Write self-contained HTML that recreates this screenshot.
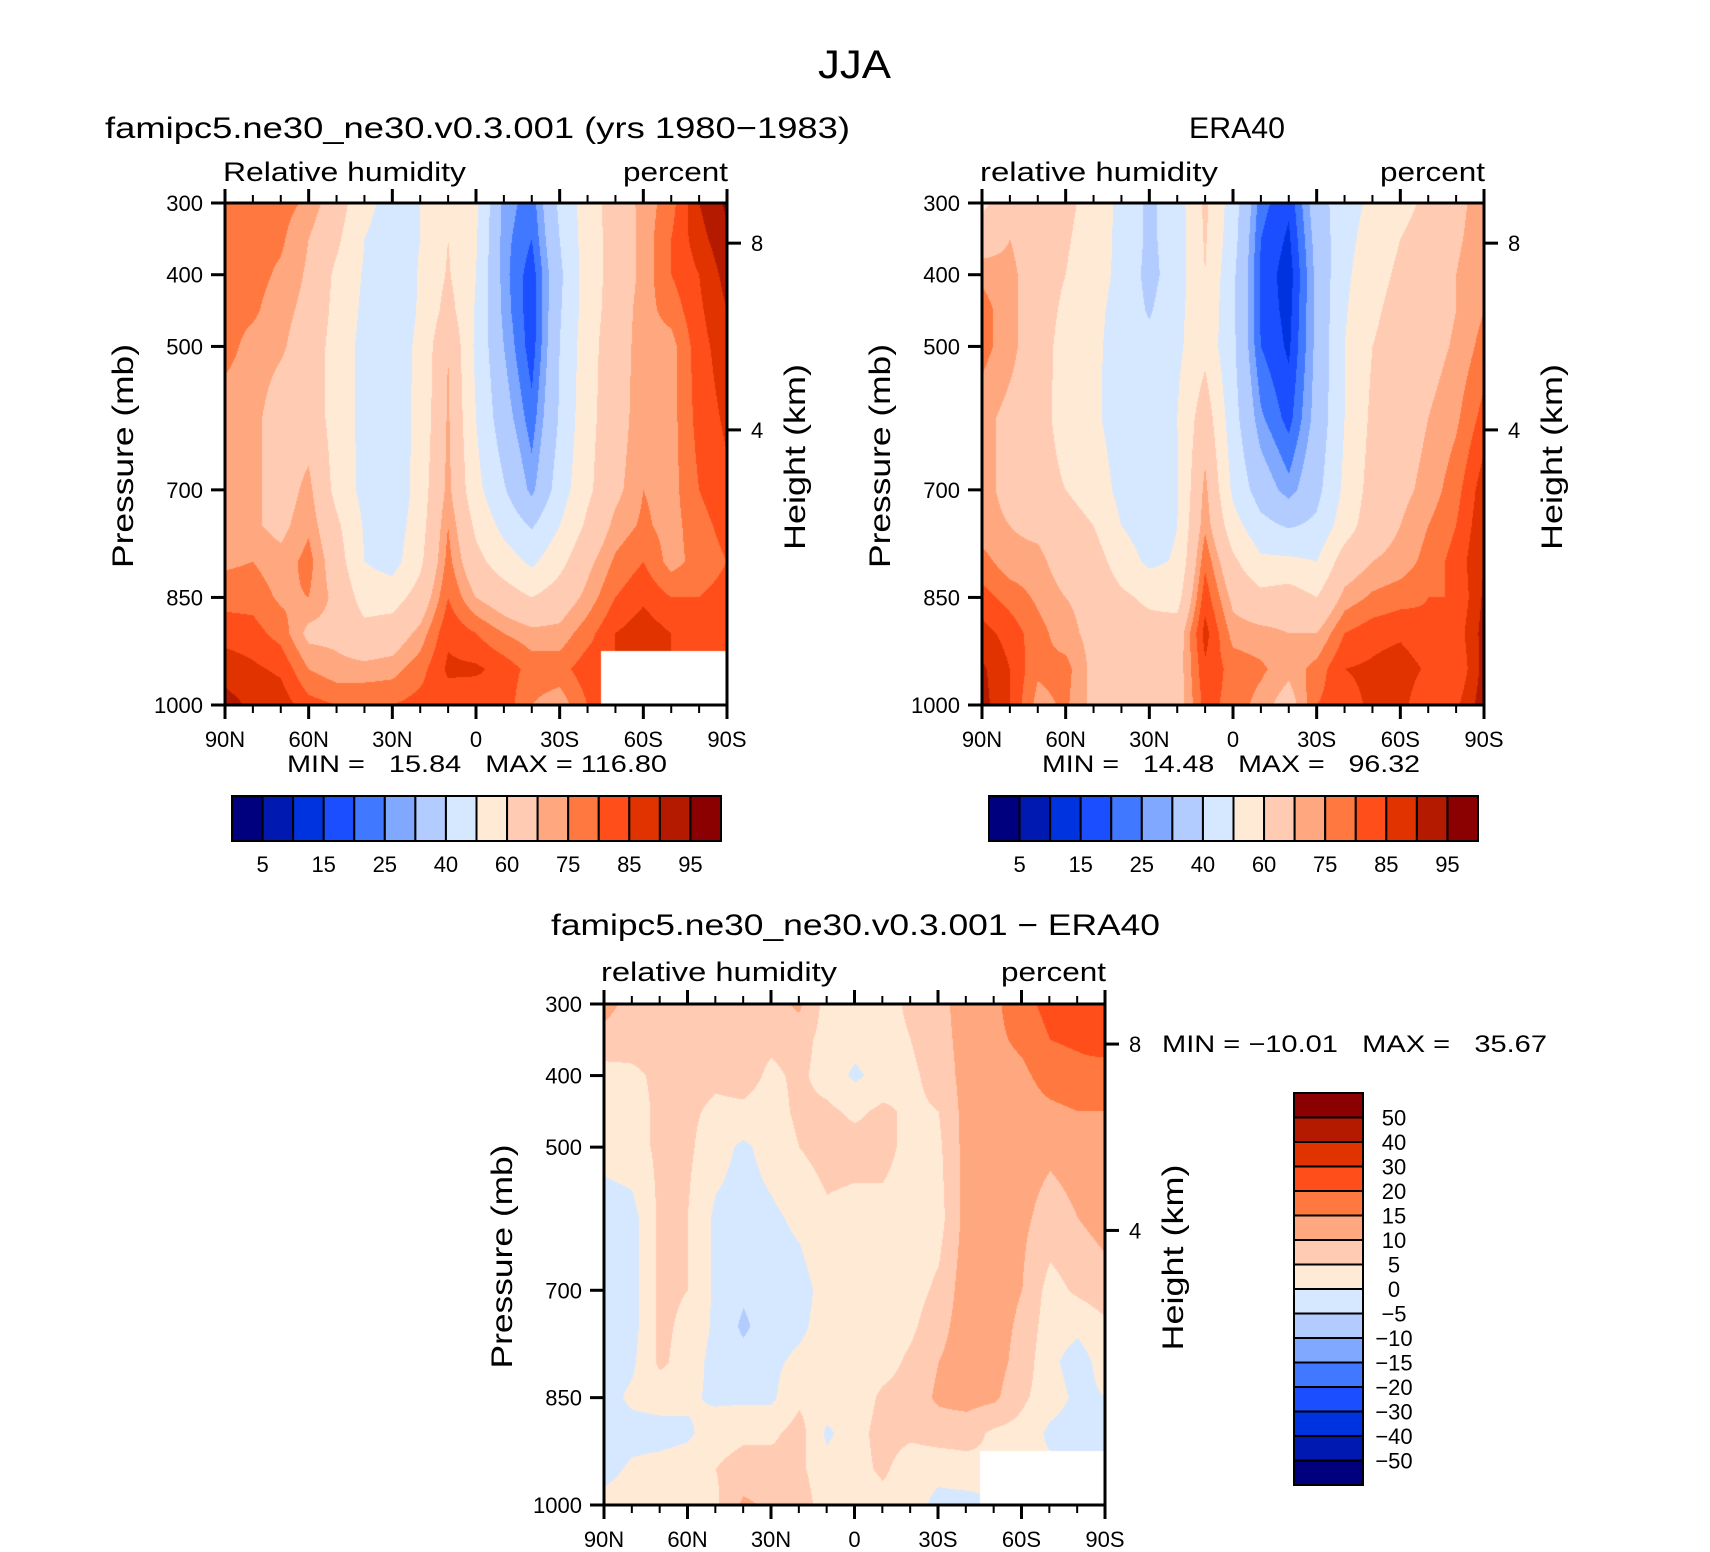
<!DOCTYPE html>
<html><head><meta charset="utf-8">
<style>
html,body{margin:0;padding:0;background:#fff;}
#wrap{position:relative;width:1710px;height:1552px;overflow:hidden;background:#fff;}
canvas{position:absolute;}
svg{position:absolute;left:0;top:0;}
text{font-family:"Liberation Sans",sans-serif;fill:#000;}
</style></head>
<body>
<div id="wrap">
<canvas id="c1" width="502" height="502" style="left:225px;top:203px"></canvas>
<canvas id="c2" width="502" height="502" style="left:982px;top:203px"></canvas>
<canvas id="c3" width="502" height="501" style="left:604px;top:1004px"></canvas>
<svg id="s" width="1710" height="1552">
<text x="818" y="78" font-size="40" textLength="73" lengthAdjust="spacingAndGlyphs">JJA</text>
<text x="105" y="138" font-size="30" textLength="745" lengthAdjust="spacingAndGlyphs">famipc5.ne30_ne30.v0.3.001 (yrs 1980−1983)</text>
<text x="1189" y="138" font-size="30" textLength="96" lengthAdjust="spacingAndGlyphs">ERA40</text>
<text x="223" y="181" font-size="27" textLength="243" lengthAdjust="spacingAndGlyphs">Relative humidity</text>
<text x="623" y="181" font-size="27" textLength="105" lengthAdjust="spacingAndGlyphs">percent</text>
<text x="980" y="181" font-size="27" textLength="238" lengthAdjust="spacingAndGlyphs">relative humidity</text>
<text x="1380" y="181" font-size="27" textLength="105" lengthAdjust="spacingAndGlyphs">percent</text>
<text x="551" y="935" font-size="30" textLength="609" lengthAdjust="spacingAndGlyphs">famipc5.ne30_ne30.v0.3.001 − ERA40</text>
<text x="601" y="981" font-size="27" textLength="236" lengthAdjust="spacingAndGlyphs">relative humidity</text>
<text x="1001" y="981" font-size="27" textLength="105" lengthAdjust="spacingAndGlyphs">percent</text>
<text x="287" y="772" font-size="24" textLength="380" lengthAdjust="spacingAndGlyphs">MIN =&#160;&#160;&#160;15.84&#160;&#160;&#160;MAX = 116.80</text>
<text x="1042" y="772" font-size="24" textLength="378" lengthAdjust="spacingAndGlyphs">MIN =&#160;&#160;&#160;14.48&#160;&#160;&#160;MAX =&#160;&#160;&#160;96.32</text>
<text x="1162" y="1052" font-size="24" textLength="385" lengthAdjust="spacingAndGlyphs">MIN = −10.01&#160;&#160;&#160;MAX =&#160;&#160;&#160;35.67</text>
</svg>
</div>
<script>
const P_LEVELS=[300,350,400,450,500,600,700,750,800,850,900,950,1000];
const LATS=[90,80,70,60,50,40,30,20,10,0,-10,-20,-30,-40,-50,-60,-70,-80,-90];
const PALETTE=["#00007F","#0019B0","#0033E0","#1A4EFF","#4078FF","#80A8FF","#B3CCFF","#D6E8FF","#FFEAD6","#FFCCB3","#FFA880","#FF7840","#FF4E1A","#E03300","#B31A00","#8B0000"];
const RH_LEVELS=[5,10,15,20,25,30,40,50,60,70,75,80,85,90,95];
const DIFF_LEVELS=[-50,-40,-30,-20,-15,-10,-5,0,5,10,15,20,30,40,50];
const RH_LABELS=["5","15","25","40","60","75","85","95"];
const DIFF_LABELS=["50","40","30","20","15","10","5","0","−5","−10","−15","−20","−30","−40","−50"];
const LAT_TICK_LABELS=["90N","60N","30N","0","30S","60S","90S"];
const LAT_TICKS=[90,60,30,0,-30,-60,-90];
const P_TICKS=[300,400,500,700,850,1000];
const H_TICKS=[8,4];
const N=null;
const MODEL=[
[77,77,77,77,77,72,72,72,74,78,83,88,92],
[77,77,77,76,73,72,72,71,75,78,82,86,89],
[77,76,74,72,71,66,66,68,72,74,78,84,88],
[74,70,69,68,66,66,72,74,77,75,68,75,82],
[65,62,58,57,56,56,57,62,65,68,68,72,80],
[53,50,49,48,47,47,47,49,50,56,63,72,80],
[46,45,42,44,45,44,41,44,46,56,65,73,80],
[50,50,51,51,52,53,55,56,58,64,72,78,82],
[60,60,61,64,70,71,72,75,77,80,84,86,82],
[52,51,50,49,48,50,53,58,63,70,80,86,81],
[28,27,27,28,30,34,41,47,55,65,75,83,83],
[22,20,17,16.5,17,22,28,39,48,60,72,78,75],
[42,40,38,39,40,41,45,50,57,65,72,78,72],
[55,55,55,55,56,57,58,62,68,72,78,83,80],
[65,64,64,65,66,66,68,72,76,80,85,N,N],
[72,72,72,73,73,74,75,76,80,84,88,N,N],
[78,80,80,77,73,73,73,73,73,80,85,N,N],
[90,88,85,84,83,82,80,78,77,80,82,N,N],
[96,94,92,90,88,86,84,82,80,82,84,N,N]];
const ERA=[
[58,65,74,77,77,72,72,72,77,82,87,91,92],
[65,70,72,72,72,68,68,70,72,78,83,85,85],
[65,65,65,65,65,65,65,68,72,74,77,76,73],
[62,61,60,58,56,55,60,64,66,70,72,77,76],
[57,56,55,53,52,52,56,60,65,68,68,68,68],
[47,47,47,46,46,45,47,50,55,62,65,66,65],
[38,38,37,39,43,44,44,45,48,58,64,65,65],
[45,45,45,47,48,50,49,50,51,56,65,66,66],
[62,61,60,58,57,66,72,74,79,83,87,84,82],
[45,44,42,42,42,44,48,54,62,68,73,78,78],
[22,20,19,19,20,26,35,43,52,63,72,76,73],
[16,14,12,13,14,18,27,39,52,65,70,72,66],
[35,33,32,32,32,33,37,42,50,60,70,77,80],
[46,47,48,49,50,50,52,55,65,72,80,85,83],
[52,54,56,58,60,62,64,66,70,76,83,86,86],
[57,60,62,64,65,66,68,70,72,78,84,88,87],
[62,64,65,66,67,70,72,75,77,80,81,84,80],
[68,69,70,70,71,74,78,80,82,80,82,80,84],
[73,73,74,75,77,82,88,89,90,91,92,92,93]];
const DIFF=[
[12,8,3,3,2,-3,-3,-3,-3,-2,-4,-2,2],
[8,7,4,3,3,-2,-2,-2,-1,1,-2,1,3],
[7,7,6,6,6,6,6,6,6,2,-2,2,4],
[7,7,7,6,6,5,5,4,3,1,-1,3,3],
[8,7,6,4,2,-1,-1,-1,-2,-1,3,5,4],
[7,7,7,4,-1,-2,-4,-6,-3,-1,4,7,11],
[8,6,4,3,2,-1,-2,-2,-1,-1,4,7,9],
[11,7,6,6,5,1,-2,-1,1,4,7,6,8],
[3,3,3,6,7,4,2,2,2,3,-1,2,2],
[3,2,-1,4,7,3,2,2,2,2,3,3,1],
[3,3,2,6,7,3,2,2,3,6,7,6,3],
[6,5,4,4,3,2,3,4,6,7,6,2,3],
[8,8,7,5,4,3,6,8,10,11,7,2,-2],
[13,12,12,12,12,12,13,13,13,12,7,3,-2],
[14,14,13,12,12,12,12,12,12,11,4,N,N],
[18,16,14,13,12,11,10,9,8,6,3,N,N],
[22,20,17,14,11,8,3,2,1,2,-1,N,N],
[26,21,18,15,12,10,6,1,-2,-1,-2,N,N],
[28,24,16,15,14,12,8,4,2,0,-2,N,N]];

const PANELS=[
 {id:"c1",x0:225,y0:203,w:502,h:502,data:MODEL,levels:RH_LEVELS,name:"model"},
 {id:"c2",x0:982,y0:203,w:502,h:502,data:ERA,levels:RH_LEVELS,name:"era40"},
 {id:"c3",x0:604,y0:1004,w:501,h:501,data:DIFF,levels:DIFF_LEVELS,name:"difference"}];

function xScale(pn,lat){return pn.x0+(90-lat)/180*pn.w;}
function yScale(pn,p){return pn.y0+(p-300)/700*pn.h;}
function hScale(pn,km){const p=1013.25*Math.pow(1-km/44.33,5.256); return yScale(pn,p);}
function pIndex(p){for(let i=0;i<P_LEVELS.length-1;i++){if(p<=P_LEVELS[i+1])return i+(p-P_LEVELS[i])/(P_LEVELS[i+1]-P_LEVELS[i]);}return P_LEVELS.length-1;}
function hexToRgb(h){return [parseInt(h.substr(1,2),16),parseInt(h.substr(3,2),16),parseInt(h.substr(5,2),16)];}
const RGB=PALETTE.map(hexToRgb);

function drawField(pn){
  const cv=document.getElementById(pn.id),ctx=cv.getContext('2d');
  const W=cv.width,H=cv.height,img=ctx.createImageData(W,H),d=pn.data;
  const nLat=LATS.length;
  for(let py=0;py<H;py++){
    const p=300+700*(py+0.5)/H, fi=pIndex(p);
    const i0=Math.min(Math.floor(fi),P_LEVELS.length-2), ti=fi-i0;
    for(let px=0;px<W;px++){
      const fj=(px+0.5)/W*(nLat-1);
      const j0=Math.min(Math.floor(fj),nLat-2), tj=fj-j0;
      const k=(py*W+px)*4;
      const nj=Math.round(fj), ni=Math.round(fi);
      if(d[nj][ni]===null){img.data[k]=255;img.data[k+1]=255;img.data[k+2]=255;img.data[k+3]=255;continue;}
      let a=d[j0][i0],b=d[j0+1][i0],c=d[j0][i0+1],e=d[j0+1][i0+1];
      const vals=[a,b,c,e].filter(v=>v!==null);const m=vals.reduce((s,v)=>s+v,0)/vals.length;
      if(a===null)a=m;if(b===null)b=m;if(c===null)c=m;if(e===null)e=m;
      const v=(a*(1-tj)+b*tj)*(1-ti)+(c*(1-tj)+e*tj)*ti;
      let idx=0;for(const L of pn.levels){if(v>=L)idx++;}
      const col=RGB[idx];
      img.data[k]=col[0];img.data[k+1]=col[1];img.data[k+2]=col[2];img.data[k+3]=255;
    }
  }
  ctx.putImageData(img,0,0);
}

const svg=document.getElementById('s');
const NS="http://www.w3.org/2000/svg";
function mk(tag,attrs){const el=document.createElementNS(NS,tag);for(const k in attrs)el.setAttribute(k,attrs[k]);svg.appendChild(el);return el;}
function line(x1,y1,x2,y2,w){return mk('line',{x1:x1,y1:y1,x2:x2,y2:y2,stroke:'#000','stroke-width':w});}

function drawAxes(pn){
  const r=pn.x0+pn.w,b=pn.y0+pn.h;
  const frame=mk('rect',{x:pn.x0,y:pn.y0,width:pn.w,height:pn.h,fill:'none',stroke:'#000','stroke-width':3});
  
  
  for(let lat=90;lat>=-90;lat-=10){
    const x=xScale(pn,lat),major=(lat%30===0);
    const t1=line(x,pn.y0,x,pn.y0-(major?14:8),major?3:2);
    
    
    const t2=line(x,b,x,b+(major?14:8),major?3:2);
    
    
  }
  LAT_TICKS.forEach((lat,i)=>{
    const t=mk('text',{x:xScale(pn,lat),y:b+42,'font-size':22,'text-anchor':'middle'});
    t.textContent=LAT_TICK_LABELS[i];
    
    
  });
  P_TICKS.forEach(p=>{
    const y=yScale(pn,p);
    const tk=line(pn.x0-14,y,pn.x0,y,3);
    
    
    const t=mk('text',{x:pn.x0-22,y:y+8,'font-size':22,'text-anchor':'end'});
    t.textContent=String(p);
    
    
  });
  H_TICKS.forEach(h=>{
    const y=hScale(pn,h);
    const tk=line(r,y,r+14,y,3);
    
    
    const t=mk('text',{x:r+24,y:y+8,'font-size':22});
    t.textContent=String(h);
    
    
  });
  const cy=pn.y0+pn.h/2;
  const yl=mk('text',{x:0,y:0,'font-size':30,'text-anchor':'middle',textLength:224,lengthAdjust:'spacingAndGlyphs',transform:'translate('+(pn.x0-92)+','+(cy+2)+') rotate(-90)'});
  yl.textContent='Pressure (mb)';
  
  
  const hl=mk('text',{x:0,y:0,'font-size':30,'text-anchor':'middle',textLength:186,lengthAdjust:'spacingAndGlyphs',transform:'translate('+(r+78)+','+(cy+3)+') rotate(-90)'});
  hl.textContent='Height (km)';
  
  
}

function hColorbar(x0,y0,w,h){
  const bw=w/PALETTE.length;
  PALETTE.forEach((c,i)=>{
    const r=mk('rect',{x:x0+i*bw,y:y0,width:bw,height:h,fill:c,stroke:'#000','stroke-width':2});
    
    
  });
  RH_LABELS.forEach((s,i)=>{
    const t=mk('text',{x:x0+(2*i+1)*bw,y:y0+h+31,'font-size':22,'text-anchor':'middle'});
    t.textContent=s;
    
    
  });
}
function vColorbar(x0,y0,w,h){
  const bh=h/PALETTE.length;
  for(let i=0;i<PALETTE.length;i++){
    const r=mk('rect',{x:x0,y:y0+i*bh,width:w,height:bh,fill:PALETTE[PALETTE.length-1-i],stroke:'#000','stroke-width':2});
    
    
  }
  DIFF_LABELS.forEach((s,i)=>{
    const t=mk('text',{x:x0+w+31,y:y0+(i+1)*bh+8,'font-size':22,'text-anchor':'middle'});
    t.textContent=s;
    
    
  });
}

PANELS.forEach(pn=>{drawField(pn);drawAxes(pn);});
hColorbar(232,796,489,45);
hColorbar(989,796,489,45);
vColorbar(1294,1093,69,392);
</script>
</body></html>
